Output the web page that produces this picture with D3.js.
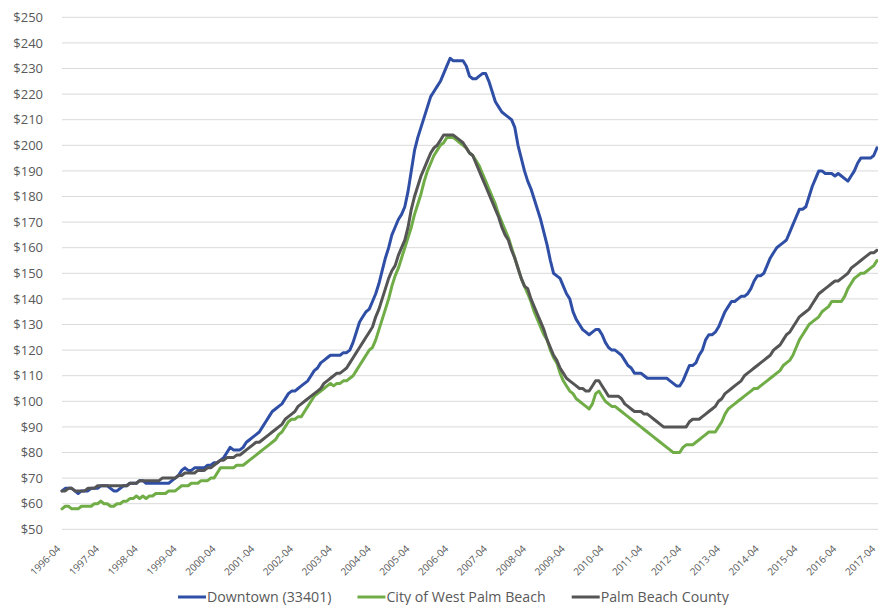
<!DOCTYPE html>
<html>
<head>
<meta charset="utf-8">
<script src="https://cdn.jsdelivr.net/npm/d3@7/dist/d3.min.js"></script>
<style>
  html, body { margin: 0; padding: 0; background: #fff; }
  svg { display: block; font-family: "Open Sans", "Liberation Sans", sans-serif; }
</style>
</head>
<body>
<svg id="chart" width="878" height="605"></svg>
<script>
// Monthly series, 1996-04 .. 2017-04 (253 months)
const yearLabels = d3.range(1996, 2018).map(y => y + "-04");
const yTicks = d3.range(50, 251, 10);

const downtown = [
  65, 66, 66, 66, 65, 64, 65, 65, 65, 66, 66, 66,
  67, 67, 67, 66, 65, 65, 66, 67, 67, 68, 68, 68,
  69, 69, 68, 68, 68, 68, 68, 68, 68, 68, 69, 70,
  71, 73, 74, 73, 73, 74, 74, 74, 74, 75, 75, 76,
  76, 77, 78, 80, 82, 81, 81, 81, 82, 84, 85, 86,
  87, 88, 90, 92, 94, 96, 97, 98, 99, 101, 103, 104,
  104, 105, 106, 107, 108, 110, 112, 113, 115, 116, 117, 118,
  118, 118, 118, 119, 119, 120, 123, 127, 131, 133, 135, 136,
  139, 142, 146, 151, 156, 160, 165, 168, 171, 173, 176, 182,
  190, 198, 203, 207, 211, 215, 219, 221, 223, 225, 228, 231,
  234, 233, 233, 233, 233, 231, 227, 226, 226, 227, 228, 228,
  225, 221, 217, 215, 213, 212, 211, 210, 207, 200, 195, 190,
  186, 183, 179, 175, 171, 166, 161, 155, 150, 149, 148, 145,
  142, 140, 135, 132, 130, 128, 127, 126, 127, 128, 128, 126,
  123, 121, 120, 120, 119, 118, 116, 114, 113, 111, 111, 111,
  110, 109, 109, 109, 109, 109, 109, 109, 108, 107, 106, 106,
  108, 111, 114, 114, 115, 118, 120, 124, 126, 126, 127, 129,
  132, 135, 137, 139, 139, 140, 141, 141, 142, 144, 147, 149,
  149, 150, 153, 156, 158, 160, 161, 162, 163, 166, 169, 172,
  175, 175, 176, 180, 184, 187, 190, 190, 189, 189, 189, 188,
  189, 188, 187, 186, 188, 190, 193, 195, 195, 195, 195, 196,
  199
];

const city = [
  58, 59, 59, 58, 58, 58, 59, 59, 59, 59, 60, 60,
  61, 60, 60, 59, 59, 60, 60, 61, 61, 62, 62, 63,
  62, 63, 62, 63, 63, 64, 64, 64, 64, 65, 65, 65,
  66, 67, 67, 67, 68, 68, 68, 69, 69, 69, 70, 70,
  72, 74, 74, 74, 74, 74, 75, 75, 75, 76, 77, 78,
  79, 80, 81, 82, 83, 84, 85, 87, 88, 90, 92, 93,
  93, 94, 94, 96, 98, 100, 102, 103, 104, 105, 106, 107,
  106, 107, 107, 108, 108, 109, 110, 112, 114, 116, 118, 120,
  121, 124, 128, 132, 136, 140, 145, 149, 152, 156, 160, 164,
  168, 173, 177, 181, 186, 190, 193, 196, 198, 200, 201, 203,
  203, 203, 202, 201, 200, 199, 197, 196, 194, 192, 189, 186,
  183, 180, 177, 173, 170, 167, 164, 160, 156, 152, 148, 145,
  142, 139, 135, 132, 129, 126, 124, 120, 117, 115, 111, 108,
  106, 104, 103, 101, 100, 99, 98, 97, 99, 103, 104, 102,
  100, 99, 98, 98, 97, 96, 95, 94, 93, 92, 91, 90,
  89, 88, 87, 86, 85, 84, 83, 82, 81, 80, 80, 80,
  82, 83, 83, 83, 84, 85, 86, 87, 88, 88, 88, 90,
  92, 95, 97, 98, 99, 100, 101, 102, 103, 104, 105, 105,
  106, 107, 108, 109, 110, 111, 112, 114, 115, 116, 118, 121,
  124, 126, 128, 130, 131, 132, 133, 135, 136, 137, 139, 139,
  139, 139, 141, 144, 146, 148, 149, 150, 150, 151, 152, 153,
  155
];

const county = [
  65, 65, 66, 66, 65, 65, 65, 65, 66, 66, 66, 67,
  67, 67, 67, 67, 67, 67, 67, 67, 67, 68, 68, 68,
  69, 69, 69, 69, 69, 69, 69, 70, 70, 70, 70, 70,
  71, 71, 72, 72, 72, 72, 73, 73, 73, 74, 74, 75,
  76, 77, 77, 78, 78, 78, 79, 79, 80, 81, 82, 83,
  84, 84, 85, 86, 87, 88, 89, 90, 91, 93, 94, 95,
  96, 98, 99, 100, 101, 102, 103, 104, 105, 107, 108, 109,
  110, 111, 111, 112, 113, 115, 117, 119, 121, 123, 125, 127,
  129, 133, 136, 140, 144, 148, 151, 153, 157, 160, 163, 168,
  175, 180, 184, 188, 191, 194, 197, 199, 200, 202, 204, 204,
  204, 204, 203, 202, 201, 199, 197, 196, 193, 190, 187, 184,
  181, 178, 175, 172, 168, 165, 163, 159, 156, 152, 148, 145,
  144, 140, 137, 134, 131, 128, 124, 121, 118, 116, 113, 111,
  109, 108, 107, 106, 105, 105, 104, 104, 106, 108, 108, 106,
  104, 102, 102, 102, 102, 101, 99, 98, 97, 96, 96, 96,
  95, 95, 94, 93, 92, 91, 90, 90, 90, 90, 90, 90,
  90, 90, 92, 93, 93, 93, 94, 95, 96, 97, 98, 100,
  101, 103, 104, 105, 106, 107, 108, 110, 111, 112, 113, 114,
  115, 116, 117, 118, 120, 121, 122, 124, 126, 127, 129, 131,
  133, 134, 135, 136, 138, 140, 142, 143, 144, 145, 146, 147,
  147, 148, 149, 150, 152, 153, 154, 155, 156, 157, 158, 158,
  159
];

const seriesNames = ["Downtown (33401)", "City of West Palm Beach", "Palm Beach County"];
const seriesColors = ["#2f4ea6", "#70ad47", "#555555"];
const seriesData = [downtown, city, county];

const svg = d3.select("#chart");
const x = d3.scaleLinear().domain([0, 252]).range([62, 877]);
const y = d3.scaleLinear().domain([50, 250]).range([529.3, 17.3]);

// gridlines
svg.append("g").selectAll("line").data(yTicks).join("line")
  .attr("x1", 62).attr("x2", 878)
  .attr("y1", d => y(d)).attr("y2", d => y(d))
  .attr("stroke", "#d9d9d9").attr("stroke-width", 1);

// y axis labels
const yAxis = d3.axisLeft(y).tickValues(yTicks).tickFormat(d => "$" + d).tickSize(0).tickPadding(0);
const gy = svg.append("g").attr("transform", "translate(43,0)").call(yAxis);
gy.select(".domain").remove();
gy.selectAll("text").attr("fill", "#595959").style("font-size", "13px")
  .style("font-family", '"Open Sans", sans-serif');

// x axis labels
const xTicks = d3.range(0, 253, 12);
const xAxis = d3.axisBottom(x).tickValues(xTicks).tickFormat((d, i) => yearLabels[i]).tickSize(0);
const gx = svg.append("g").attr("transform", "translate(0,538)").call(xAxis);
gx.select(".domain").remove();
gx.selectAll("text")
  .attr("fill", "#595959").style("font-size", "10px")
  .style("font-family", '"Open Sans", sans-serif')
  .attr("text-anchor", "end")
  .attr("dy", "0.35em").attr("y", 0).attr("x", 0)
  .attr("transform", "translate(-4,9) rotate(-45)");

// lines
const line = d3.line().x((d, i) => x(i)).y(d => y(d));
svg.append("g").selectAll("path").data(seriesData).join("path")
  .attr("d", d => line(d))
  .attr("fill", "none")
  .attr("stroke", (d, i) => seriesColors[i])
  .attr("stroke-width", 3)
  .attr("stroke-linejoin", "round")
  .attr("stroke-linecap", "round");

// legend
const legend = svg.append("g").attr("transform", "translate(178,597)");
let cx = 0;
seriesNames.forEach((name, i) => {
  const g = legend.append("g").attr("transform", `translate(${cx},0)`);
  g.append("line").attr("x1", 0).attr("x2", 28).attr("y1", 0).attr("y2", 0)
    .attr("stroke", seriesColors[i]).attr("stroke-width", 3);
  const t = g.append("text").attr("x", 29).attr("y", 0).attr("dy", "0.35em")
    .attr("fill", "#595959").style("font-size", "14.2px")
    .style("font-family", '"Open Sans", sans-serif').text(name);
  const w = t.node().getComputedTextLength();
  cx += 29 + w + 26;
});
</script>
</body>
</html>
